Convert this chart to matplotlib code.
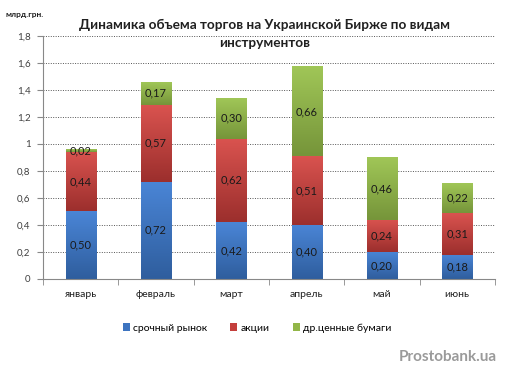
import numpy as np
import matplotlib.pyplot as plt
from matplotlib.colors import LinearSegmentedColormap

plt.rcParams['font.family'] = ['Lato', 'DejaVu Sans']

months = ['январь', 'февраль', 'март', 'апрель', 'май', 'июнь']
futures = [0.50, 0.72, 0.42, 0.40, 0.20, 0.18]
shares = [0.44, 0.57, 0.62, 0.51, 0.24, 0.31]
other = [0.02, 0.17, 0.30, 0.66, 0.46, 0.22]
series_names = ['срочный рынок', 'акции', 'др.ценные бумаги']
colors = ['#3d74c0', '#c43f3c', '#92b648']
# light (top) / dark (bottom) shades for the bar gradient
shades = [('#4a85d6', '#2f5e9e'), ('#d9534f', '#9c2f2d'), ('#a0c657', '#76953a')]
yticks = [0, 0.2, 0.4, 0.6, 0.8, 1, 1.2, 1.4, 1.6, 1.8]

fig = plt.figure(figsize=(5.14, 3.78), dpi=100)
ax = fig.add_axes([0.0837, 0.262, 0.879, 0.643])

x = np.arange(len(months))
bottom = np.zeros(len(months))
grad = np.linspace(1, 0, 64).reshape(-1, 1)
for vals, name, c, sh in zip([futures, shares, other], series_names, colors, shades):
    bars = ax.bar(x, vals, width=0.4, bottom=bottom, color=c, label=name, zorder=2)
    cmap = LinearSegmentedColormap.from_list('g', [sh[1], sh[0]])
    for b, v in zip(bars, vals):
        x0, y0 = b.get_x(), b.get_y()
        ax.imshow(grad, cmap=cmap, vmin=0, vmax=1, aspect='auto', zorder=2.5,
                  extent=(x0, x0 + b.get_width(), y0, y0 + b.get_height()))
        ax.text(x0 + b.get_width() / 2, y0 + b.get_height() / 2,
                f'{v:.2f}'.replace('.', ','), ha='center', va='center',
                fontsize=8, color='#1a1a1a', zorder=3)
    bottom += np.array(vals)

ax.set_xlim(-0.5, len(months) - 0.5)
ax.set_ylim(0, 1.8)
ax.set_yticks(yticks)
ax.set_yticklabels([f'{t:g}'.replace('.', ',') for t in yticks], fontsize=7, color='#404040')
ax.set_xticks(x)
ax.set_xticklabels(months, fontsize=7.5, color='#202020')
ax.set_xticks(np.arange(-0.5, len(months)), minor=True)
ax.tick_params(axis='x', which='major', length=0, pad=8)
ax.tick_params(axis='x', which='minor', length=4, color='#888888')
ax.tick_params(axis='y', length=4, color='#888888', pad=5)
ax.grid(axis='y', linestyle=(0, (1, 1.5)), color='#555555', linewidth=0.7, zorder=0)
for s in ['top', 'right']:
    ax.spines[s].set_visible(False)
ax.spines['left'].set_color('#888888')
ax.spines['bottom'].set_color('#888888')

fig.text(0.515, 0.91, 'Динамика объема торгов на Украинской Бирже по видам\nинструментов',
         ha='center', va='center', fontsize=9.8, fontweight='bold', color='#202020',
         linespacing=1.55)
fig.text(0.01, 0.955, 'млрд.грн.', fontsize=6, fontweight='bold', color='#202020')

leg = fig.legend(loc='center', bbox_to_anchor=(0.5, 0.132), ncol=3, frameon=False,
                 fontsize=7.5, handlelength=0.7, handleheight=0.7, handletextpad=0.3,
                 columnspacing=2.2)
fig.text(0.967, 0.055, 'Prostobank.ua', ha='right', va='center', fontsize=11,
         fontweight='bold', color='#9a9a9a')

fig.savefig('out.png', dpi=100)
